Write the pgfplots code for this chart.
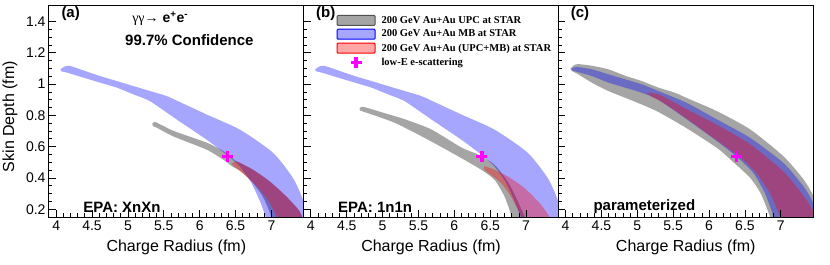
\documentclass[border=0pt]{standalone}
\usepackage{pgfplots}
\pgfplotsset{compat=1.18}
\usepackage{fontspec}
\setmainfont{Liberation Sans}
\newfontfamily\timesfont{Liberation Serif}
\definecolor{upcgray}{RGB}{165,165,165}
\definecolor{upcedge}{RGB}{80,80,80}
\definecolor{mbblue}{RGB}{0,0,255}
\definecolor{combred}{RGB}{255,0,0}
\definecolor{emag}{RGB}{255,0,255}

\tikzset{panellabel/.style={font=\bfseries\fontsize{15}{15}\selectfont}}
\pgfplotsset{
  panel/.style={
    scale only axis, width=254.7pt, height=211pt,
    xmin=3.9, xmax=7.45, ymin=0.15, ymax=1.5,
    xtick={4,4.5,5,5.5,6,6.5,7}, ytick={0.2,0.4,0.6,0.8,1,1.2,1.4},
    minor x tick num=4, minor y tick num=3,
    tick align=inside, tick pos=left,
    major tick length=7pt, minor tick length=3.5pt,
    axis on top, axis line style={line width=1pt},
    every tick/.style={black, line width=0.8pt},
    ticklabel style={font=\fontsize{14}{14}\selectfont},
    /pgf/number format/assume math mode=true,
    xlabel={Charge Radius (fm)},
    xlabel style={at={(axis description cs:0.5,-0.1445)}, anchor=center, font=\fontsize{16}{16}\selectfont},
  },
  gband/.style={fill=upcgray, draw=none, smooth, tension=0.4, forget plot},
  bband/.style={fill=mbblue, fill opacity=0.35, draw=none, smooth, tension=0.4, forget plot},
  rband/.style={fill=combred, fill opacity=0.35, draw=none, smooth, tension=0.4, forget plot},
  escat/.style={only marks, mark=+, mark size=5.5pt, color=emag, mark options={line width=3.2pt}, forget plot},
  boxlegend/.style={legend image code/.code={\draw[##1,rounded corners=1pt] (0pt,-5pt) rectangle (38pt,5pt); \path (42pt,0pt);}},
  crosslegend/.style={legend image code/.code={\draw[##1] plot coordinates {(19pt,0pt)}; \path (42pt,0pt);}},
}

\begin{document}
\begin{tikzpicture}
\useasboundingbox (-49pt,-48pt) rectangle (781pt,217pt);

% ---------------- panel (a)
\begin{axis}[panel, at={(0pt,0pt)}, anchor=south west,
  ylabel={Skin Depth (fm)},
  ylabel style={at={(axis description cs:-0.153,0.476)}, anchor=center, font=\fontsize{16}{16}\selectfont}]
\addplot[gband] coordinates {(5.34,0.745) (5.38,0.758) (5.63,0.702) (6.096,0.626) (6.328,0.572) (6.50,0.51) (6.56,0.497) (6.745,0.452) (6.978,0.377) (7.21,0.28) (7.396,0.184) (7.46,0.10) (7.5,0.0) (7.06,0.0) (7.03,0.05) (7.0,0.15) (6.88,0.28) (6.72,0.38) (6.56,0.447) (6.467,0.47) (6.328,0.517) (6.096,0.581) (5.63,0.666) (5.40,0.722) (5.35,0.730)};
\addplot[bband] coordinates {(4.06,1.095) (4.12,1.113) (4.19,1.117) (4.378,1.088) (4.61,1.052) (4.843,1.020) (5.074,0.988) (5.307,0.956) (5.539,0.924) (5.725,0.885) (6.096,0.806) (6.56,0.709) (7.02,0.562) (7.30,0.40) (7.44,0.26) (7.53,0.10) (7.6,0.0) (7.0,0.0) (6.96,0.08) (6.92,0.15) (6.85,0.24) (6.72,0.369) (6.56,0.473) (6.375,0.549) (6.096,0.645) (5.68,0.774) (5.307,0.891) (5.074,0.935) (4.843,0.978) (4.61,1.010) (4.378,1.042) (4.15,1.074) (4.07,1.082)};
\addplot[rband] coordinates {(6.44,0.49) (6.50,0.506) (6.56,0.497) (6.745,0.452) (6.978,0.377) (7.21,0.28) (7.396,0.184) (7.47,0.08) (7.50,0.0) (7.16,0.0) (7.12,0.08) (7.094,0.13) (6.978,0.238) (6.84,0.324) (6.653,0.409) (6.49,0.47)};
\addplot[escat] coordinates {(6.385,0.537)};
\node[anchor=west, panellabel] at (axis cs:4.025,1.449) {(a)};
\node[font=\fontsize{14}{14}\selectfont] at (axis cs:5.45,1.417) {{\timesfont γγ→} \textbf{e\textsuperscript{+}e\textsuperscript{-}}};
\node[panellabel] at (axis cs:5.857,1.282) {99.7\% Confidence};
\node[panellabel] at (axis cs:4.917,0.214) {EPA: XnXn};
\end{axis}

% ---------------- panel (b)
\begin{axis}[panel, at={(254.7pt,0pt)}, anchor=south west, yticklabels={},
  legend cell align=left,
  legend style={at={(axis cs:4.355,1.449)}, anchor=north west, draw=none, fill=none,
    inner sep=0pt, row sep=1.3pt,
    font=\timesfont\bfseries\fontsize{10.5}{12}\selectfont}]
\addplot[gband] coordinates {(4.68,0.84) (4.72,0.856) (5.074,0.808) (5.307,0.776) (5.68,0.71) (6.096,0.595) (6.328,0.55) (6.56,0.484) (6.77,0.356) (6.98,0.15) (7.06,0.0) (6.86,0.0) (6.84,0.05) (6.80,0.15) (6.70,0.28) (6.56,0.388) (6.375,0.452) (6.096,0.527) (5.631,0.645) (5.167,0.753) (4.72,0.826) (4.68,0.832)};
\addplot[bband] coordinates {(4.06,1.095) (4.12,1.113) (4.19,1.117) (4.378,1.088) (4.61,1.052) (4.843,1.020) (5.074,0.988) (5.307,0.956) (5.539,0.924) (5.725,0.885) (6.096,0.806) (6.56,0.709) (7.02,0.562) (7.30,0.40) (7.44,0.26) (7.53,0.10) (7.6,0.0) (7.0,0.0) (6.96,0.08) (6.92,0.15) (6.85,0.24) (6.72,0.369) (6.56,0.473) (6.375,0.549) (6.096,0.645) (5.68,0.774) (5.307,0.891) (5.074,0.935) (4.843,0.978) (4.61,1.010) (4.378,1.042) (4.15,1.074) (4.07,1.082)};
\addplot[rband] coordinates {(6.42,0.475) (6.48,0.466) (6.56,0.452) (6.745,0.409) (6.978,0.335) (7.21,0.227) (7.35,0.13) (7.42,0.0) (6.97,0.0) (6.95,0.13) (6.91,0.174) (6.79,0.28) (6.653,0.367) (6.445,0.441) (6.41,0.46)};
\addplot[escat] coordinates {(6.385,0.537)};
\addlegendimage{boxlegend, fill=upcgray, draw=upcedge, line width=1pt}
\addlegendentry{200 GeV Au+Au UPC at STAR}
\addlegendimage{boxlegend, fill=mbblue!35, draw=mbblue, line width=1pt}
\addlegendentry{200 GeV Au+Au MB at STAR}
\addlegendimage{boxlegend, fill=combred!35, draw=combred, line width=1pt}
\addlegendentry{200 GeV Au+Au (UPC+MB) at STAR}
\addlegendimage{crosslegend, only marks, mark=+, mark size=5.5pt, color=emag, mark options={line width=3.2pt}}
\addlegendentry{low-E e-scattering}
\node[anchor=west, panellabel] at (axis cs:4.025,1.449) {(b)};
\node[panellabel] at (axis cs:4.896,0.214) {EPA: 1n1n};
\end{axis}

% ---------------- panel (c)
\begin{axis}[panel, at={(509.4pt,0pt)}, anchor=south west, yticklabels={}]
\addplot[gband] coordinates {(4.07,1.10) (4.12,1.122) (4.18,1.128) (4.364,1.118) (4.596,1.095) (4.829,1.054) (5.06,1.02) (5.293,0.978) (5.525,0.945) (5.68,0.913) (6.11,0.827) (6.574,0.71) (7.038,0.538) (7.317,0.39) (7.456,0.28) (7.55,0.1) (7.6,0.0) (6.92,0.0) (6.85,0.15) (6.72,0.30) (6.574,0.40) (6.34,0.50) (6.11,0.592) (5.68,0.72) (5.293,0.822) (5.06,0.87) (4.829,0.913) (4.596,0.956) (4.364,1.01) (4.15,1.07) (4.085,1.084)};
\addplot[bband] coordinates {(4.08,1.10) (4.15,1.11) (4.364,1.095) (4.596,1.063) (4.829,1.031) (5.06,0.999) (5.293,0.956) (5.68,0.882) (6.11,0.774) (6.574,0.656) (7.038,0.495) (7.317,0.345) (7.45,0.24) (7.55,0.05) (6.94,0.05) (6.90,0.15) (6.78,0.30) (6.62,0.43) (6.40,0.53) (6.11,0.635) (5.68,0.778) (5.293,0.9) (5.06,0.945) (4.829,0.978) (4.596,1.01) (4.364,1.052) (4.15,1.08) (4.09,1.088)};
\addplot[rband] coordinates {(5.13,0.945) (5.3,0.935) (5.645,0.85) (6.11,0.74) (6.574,0.615) (7.038,0.44) (7.317,0.285) (7.45,0.19) (7.52,0.05) (7.03,0.05) (6.99,0.15) (6.85,0.30) (6.66,0.43) (6.45,0.525) (6.11,0.64) (5.68,0.782) (5.4,0.87) (5.2,0.92)};
\addplot[escat] coordinates {(6.385,0.537)};
\node[anchor=west, panellabel] at (axis cs:4.025,1.449) {(c)};
\node[panellabel] at (axis cs:5.098,0.214) {parameterized};
\end{axis}
\end{tikzpicture}
\end{document}
